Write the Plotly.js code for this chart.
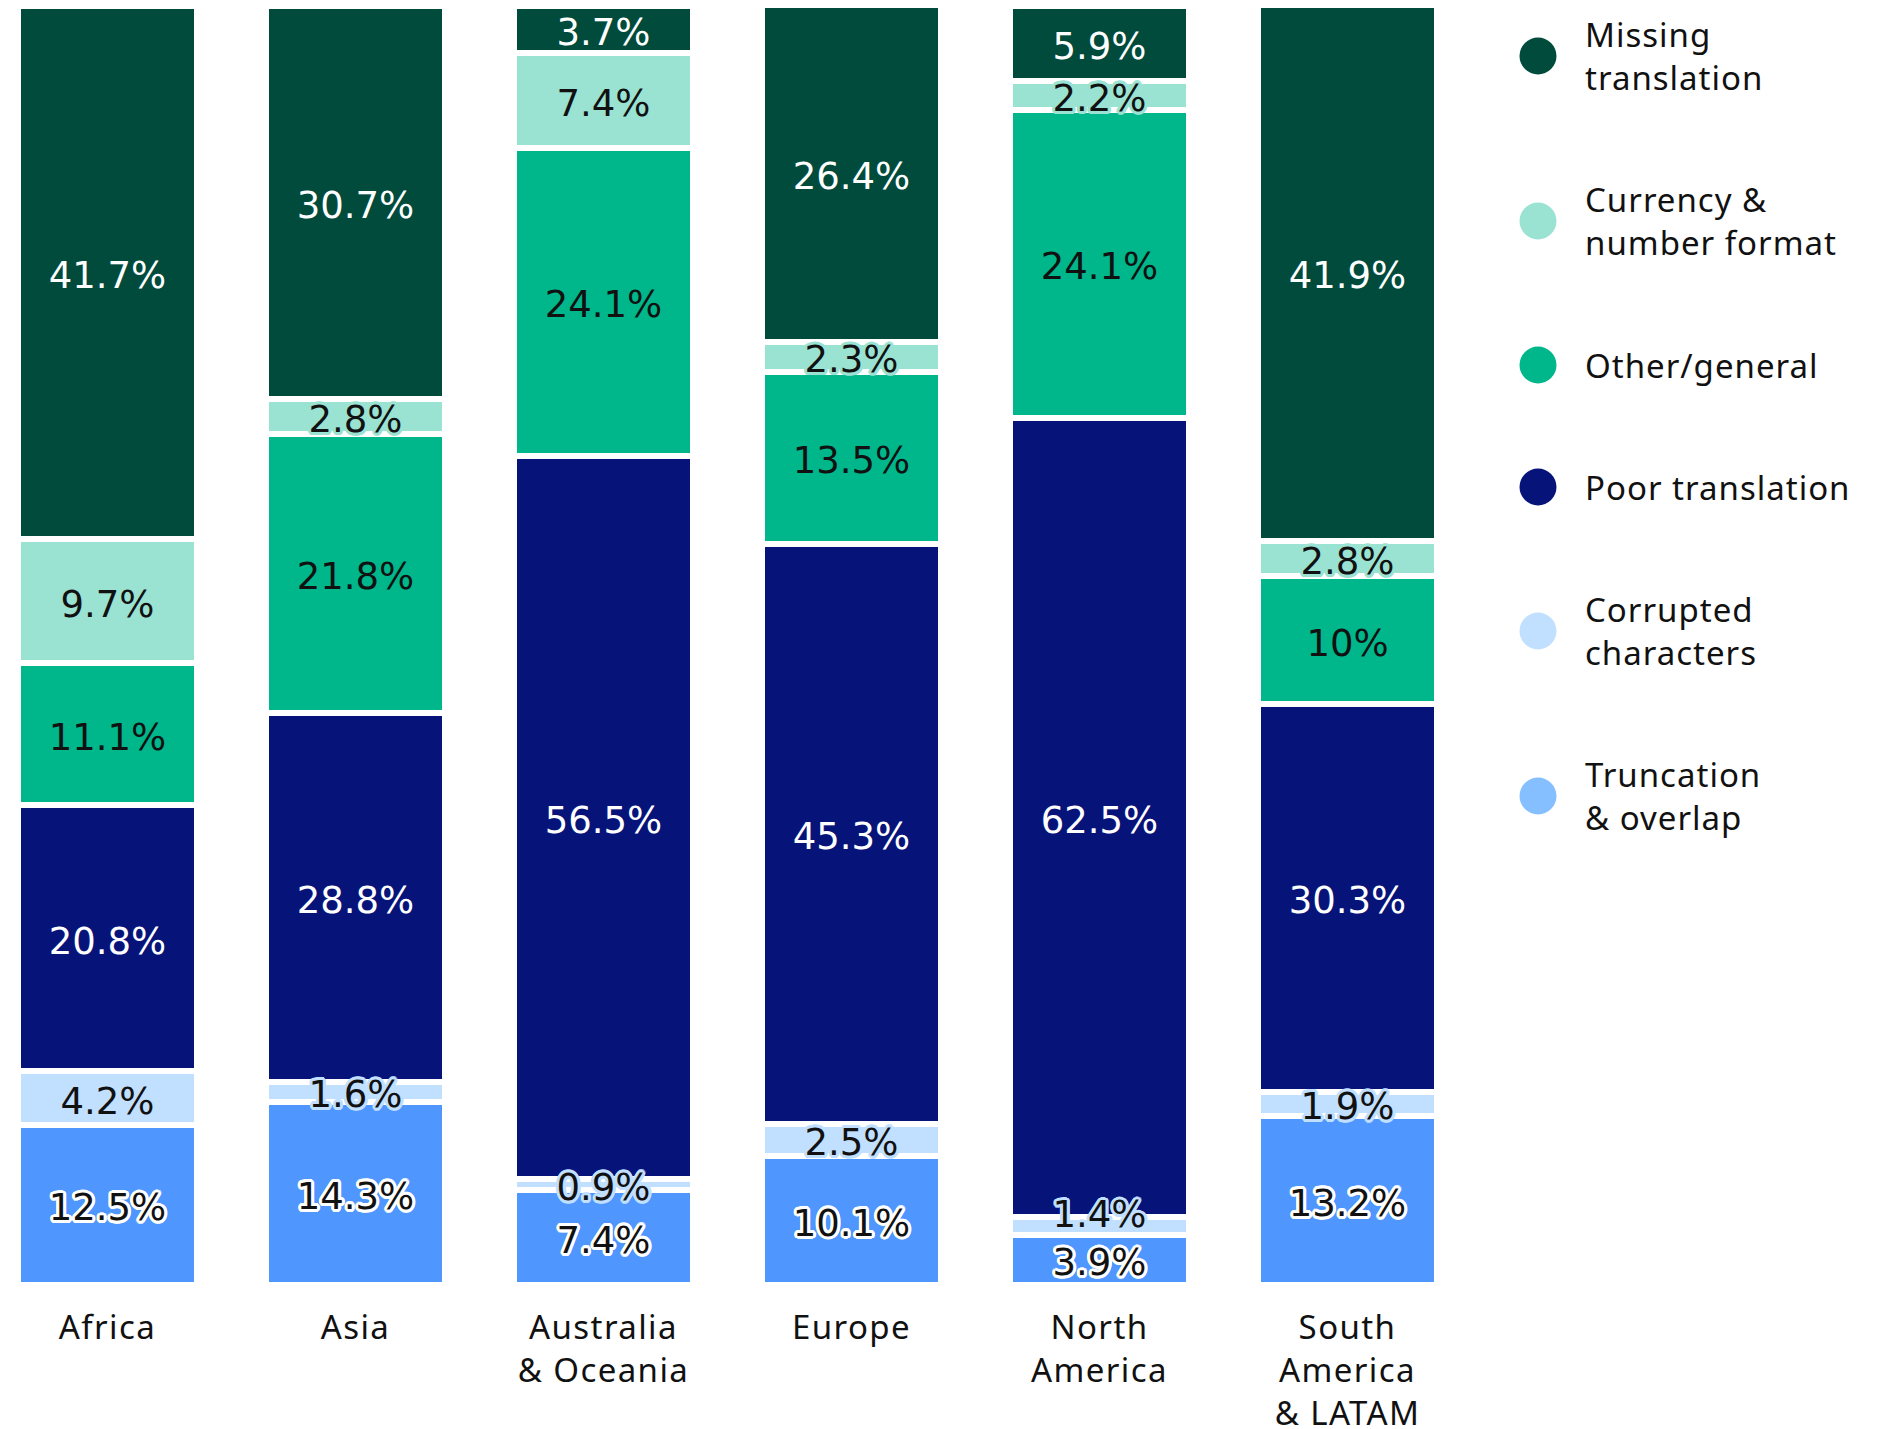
<!DOCTYPE html>
<html>
<head>
<meta charset="utf-8">
<script src="https://cdn.plot.ly/plotly-3.0.1.min.js"></script>
<style>
  html, body { margin: 0; padding: 0; background: #ffffff; }
  #chart { width: 1893px; height: 1429px; }
  #chart .xtick text { letter-spacing: 1.4px; }
  #chart .annotation-text { letter-spacing: 1px; }
</style>
</head>
<body>
<div id="chart"></div>
<script>
// ---- Data (stack order: bottom to top) ----
const regions = ["Africa", "Asia", "Australia<br>& Oceania", "Europe", "North<br>America", "South<br>America<br>& LATAM"];

const truncation = [12.5, 14.3, 7.4, 10.1, 3.9, 13.2];
const corrupted  = [4.2, 1.6, 0.9, 2.5, 1.4, 1.9];
const poor       = [20.8, 28.8, 56.5, 45.3, 62.5, 30.3];
const other      = [11.1, 21.8, 24.1, 13.5, 24.1, 10];
const currency   = [9.7, 2.8, 7.4, 2.3, 2.2, 2.8];
const missing    = [41.7, 30.7, 3.7, 26.4, 5.9, 41.9];

const seriesNames = ["Truncation & overlap", "Corrupted characters", "Poor translation", "Other/general", "Currency & number format", "Missing translation"];
const legendLabels = ["Truncation<br>& overlap", "Corrupted<br>characters", "Poor translation", "Other/general", "Currency &<br>number format", "Missing<br>translation"];
const seriesValues = [truncation, corrupted, poor, other, currency, missing];

// ---- Styles ----
const barColors    = ["#4F97FF", "#C1DFFE", "#06147A", "#00B68B", "#9AE2D2", "#004B3C"];
const legendColors = ["#85BFFF", "#C1DFFE", "#06147A", "#00B68B", "#9AE2D2", "#004B3C"];
const textColors   = ["#111111", "#111111", "#ffffff", "#111111", "#111111", "#ffffff"];
const haloColors   = ["#ffffff", "#C1DFFE", null, null, "#9AE2D2", null];
const legendCenterY = [796, 631, 487, 365, 221, 56]; // pixel centers of legend items

function halo(c) {
  if (!c) return "none";
  const o = [];
  const r = 3;
  for (let a = 0; a < 16; a++) {
    const t = a * Math.PI / 8;
    o.push((r * Math.cos(t)).toFixed(2) + "px " + (r * Math.sin(t)).toFixed(2) + "px 0 " + c);
  }
  return o.join(", ");
}

const W = 1893, H = 1429;
const plotLeft = 0, plotRight = 1480, plotTop = 6, plotBottom = 1285;
const pitch = 248, firstCenter = 107.5;
const yMax = 100;
const plotW = plotRight - plotLeft, plotH = plotBottom - plotTop;
const unitsPerPx = yMax / plotH;
const labelDropPx = 6;     // optical centring of the labels
const minLabelGapPx = 48;  // keep stacked labels from colliding

// bars
const barTraces = seriesValues.map((vals, i) => ({
  type: "bar",
  name: seriesNames[i],
  x: regions,
  y: vals,
  marker: { color: barColors[i], line: { color: "#ffffff", width: 6 } },
  hoverinfo: "name+y",
  showlegend: false
}));

// label positions: segment midpoints, pushed apart when too close
const labelY = seriesValues.map(() => []);
regions.forEach((r, k) => {
  let base = 0;
  seriesValues.forEach((vals, i) => {
    let m = base + vals[k] / 2;
    if (i > 0 && m - labelY[i - 1][k] < minLabelGapPx * unitsPerPx) {
      m = labelY[i - 1][k] + minLabelGapPx * unitsPerPx;
    }
    labelY[i][k] = m;
    base += vals[k];
  });
});

const labelTraces = seriesValues.map((vals, i) => ({
  type: "scatter",
  mode: "text",
  x: regions,
  y: labelY[i].map(m => m - labelDropPx * unitsPerPx),
  text: vals.map(v => v + "%"),
  textposition: "middle center",
  cliponaxis: false,
  textfont: {
    family: "DejaVu Sans, sans-serif",
    size: 37,
    color: textColors[i],
    shadow: halo(haloColors[i])
  },
  hoverinfo: "skip",
  showlegend: false
}));

// manual legend (circles + labels)
const px2x = p => (p - plotLeft) / plotW;
const px2y = p => (plotBottom - p) / plotH;

const shapes = [];
const annotations = [];
legendLabels.forEach((lab, i) => {
  shapes.push({
    type: "circle", xref: "paper", yref: "paper",
    xsizemode: "pixel", ysizemode: "pixel",
    xanchor: px2x(1538), yanchor: px2y(legendCenterY[i]),
    x0: -18.5, x1: 18.5, y0: -18.5, y1: 18.5,
    fillcolor: legendColors[i], line: { width: 0 }
  });
  annotations.push({
    xref: "paper", yref: "paper",
    x: px2x(1583), y: px2y(legendCenterY[i]),
    xanchor: "left", yanchor: "middle", align: "left",
    showarrow: false, text: lab,
    font: { family: "Noto Sans, sans-serif", size: 33, color: "#111111" }
  });
});

const layout = {
  width: W, height: H,
  paper_bgcolor: "#ffffff", plot_bgcolor: "#ffffff",
  margin: { l: plotLeft, r: W - plotRight, t: plotTop, b: H - plotBottom, pad: 0 },
  barmode: "stack",
  bargap: 1 - 179 / pitch,
  showlegend: false,
  xaxis: {
    type: "category",
    range: [-firstCenter / pitch, -firstCenter / pitch + plotW / pitch],
    showgrid: false, zeroline: false, showline: false, ticks: "",
    ticklabelstandoff: 20,
    tickfont: { family: "Noto Sans, sans-serif", size: 33, color: "#111111" },
    fixedrange: true
  },
  yaxis: {
    range: [0, yMax],
    showgrid: false, zeroline: false, showline: false, ticks: "",
    showticklabels: false, fixedrange: true
  },
  shapes: shapes,
  annotations: annotations
};

Plotly.newPlot("chart", barTraces.concat(labelTraces), layout, { displayModeBar: false, staticPlot: true });
</script>
</body>
</html>
